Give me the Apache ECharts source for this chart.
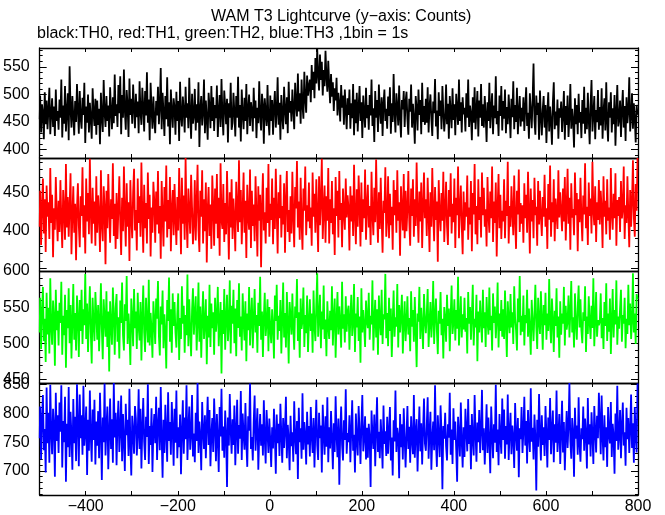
<!DOCTYPE html>
<html><head><meta charset="utf-8">
<script src="https://cdn.jsdelivr.net/npm/echarts@6/dist/echarts.min.js"></script>
<style>html,body{margin:0;padding:0;background:#fff}#c{width:665px;height:515px}</style>
</head><body><div id="c"></div><script>
const xStart = -500, xStep = 2;
const titleText = 'WAM T3 Lightcurve (y\u2212axis: Counts)';
const subText = 'black:TH0, red:TH1, green:TH2, blue:TH3 ,1bin = 1s';
const xTickLabels = [-400, -200, 0, 200, 400, 600, 800];
const th0Labels = [400, 450, 500, 550];
const th1Labels = [400, 450];
const th2Labels = [450, 500, 550, 600];
const th3Labels = [700, 750, 800, 850];

const th0 = [
455,498,431,482,467,419,504,446,489,437,473,512,428,466,493,441,478,425,509,452,470,
436,491,458,527,422,480,447,515,433,469,502,417,551,474,440,497,461,426,488,450,519,
472,429,506,457,438,494,463,521,412,478,449,500,431,485,456,420,511,466,443,492,427,
489,445,474,410,503,459,432,526,468,441,497,452,480,424,513,470,437,495,448,536,461,
482,441,517,466,533,428,499,458,545,471,436,508,480,423,529,463,492,447,518,475,439,
501,459,487,430,524,469,445,512,478,433,506,462,540,449,491,417,521,473,438,496,455,
430,488,462,514,446,479,548,437,503,468,425,497,455,531,442,486,410,509,471,440,493,
476,427,505,452,488,416,523,461,442,496,470,431,514,458,484,439,530,466,420,501,447,
462,510,435,482,449,522,405,474,497,444,468,527,430,489,456,418,503,477,439,515,452,
495,434,481,457,516,423,470,499,441,528,463,426,507,479,446,492,413,484,458,521,436,
448,503,469,424,497,458,532,440,481,415,509,466,437,494,452,519,428,473,500,443,486,
471,433,512,457,489,421,476,448,524,462,435,501,480,411,493,467,443,517,454,426,498,
452,490,427,478,506,440,469,531,445,485,418,499,463,437,514,472,446,495,430,523,467,
488,451,509,474,437,521,483,460,538,469,502,447,527,480,456,541,492,467,534,498,515,
527,486,553,508,541,493,566,520,583,535,507,572,526,559,498,544,515,579,532,505,561,
519,484,537,496,522,470,511,489,530,462,503,481,451,517,476,498,445,509,472,437,493,
463,509,438,484,457,519,426,491,448,503,433,477,515,452,486,421,498,466,440,512,457,
481,436,499,462,527,443,475,414,506,458,490,432,518,471,447,495,425,483,509,452,474,
438,496,461,513,429,484,450,537,468,431,502,477,444,516,459,422,490,473,506,441,487,
505,455,427,492,469,518,440,483,456,411,497,474,435,509,463,490,428,521,450,479,445,
492,449,513,431,478,500,456,425,487,466,528,442,471,419,504,461,489,437,515,468,433,
459,518,446,483,420,497,468,439,511,454,482,426,501,473,445,527,452,486,431,495,464,
476,433,502,458,527,441,480,465,417,495,449,513,437,471,506,424,489,458,519,443,482,
440,497,463,414,486,452,521,439,474,502,428,480,457,533,446,470,425,498,461,515,435,
488,456,509,430,477,446,500,466,421,492,459,524,437,481,450,512,428,469,497,442,476,
451,495,434,478,513,443,467,420,502,471,439,490,556,454,427,498,463,485,418,507,460,
426,473,497,440,481,412,466,504,433,478,451,409,486,522,437,469,444,491,420,475,458,
487,432,465,506,418,479,445,498,423,460,519,438,474,452,404,493,446,481,428,501,449,
468,421,490,447,514,429,476,437,503,455,410,482,526,433,464,497,419,472,450,508,436,
477,444,511,420,469,493,435,522,451,415,486,458,504,431,475,446,499,407,467,517,442,
455,489,423,472,508,440,479,416,495,448,470,531,433,461,502,438,484,457,413,481,463
];
const th1 = [
405,452,381,430,468,396,441,372,459,418,437,389,482,410,447,365,429,401,470,423,386,
439,398,466,414,377,453,426,388,487,404,444,392,431,475,369,420,458,397,435,361,428,
462,407,378,445,419,483,391,433,370,468,412,449,395,494,424,383,456,409,438,380,471,
397,446,421,372,479,408,386,458,430,356,452,403,474,426,384,441,415,488,393,435,376,
449,389,428,471,411,368,443,399,484,422,379,462,405,437,360,466,417,390,450,481,400,
427,374,468,410,445,392,489,419,371,460,403,436,383,476,415,447,366,430,397,464,438,
384,451,408,478,396,432,363,465,420,379,457,412,485,391,440,402,470,373,427,453,394,
461,416,381,444,400,482,427,369,469,409,446,388,495,418,377,455,424,396,473,431,382,
410,466,387,435,486,401,372,452,418,479,383,441,399,463,358,426,457,393,434,376,472,
431,380,455,409,474,390,443,367,488,414,402,461,385,436,395,478,420,362,450,404,467,
389,442,415,373,464,427,398,492,411,453,382,428,476,397,439,364,460,418,401,480,377,
452,406,434,386,471,421,366,458,413,447,352,431,475,400,424,383,456,410,487,392,435,
414,468,382,443,402,481,425,370,450,416,473,391,432,408,462,371,440,478,398,427,385,
445,396,477,419,378,457,429,491,404,438,388,469,411,375,455,426,484,394,433,412,463,
403,430,380,476,418,448,397,467,421,372,471,407,440,494,389,428,459,384,445,413,482,
383,441,410,465,395,429,368,470,419,452,391,478,414,436,378,455,424,401,468,417,446,
429,374,458,412,446,393,486,420,382,454,405,472,431,379,463,398,441,416,480,388,433,
460,404,432,381,477,421,394,456,411,493,426,384,450,402,469,415,371,439,423,483,392,
416,471,390,448,407,431,375,466,420,453,397,479,413,437,367,458,427,400,474,390,452,
399,428,478,413,380,455,419,467,392,441,406,489,423,384,451,412,463,377,432,476,416,
441,393,469,420,372,450,405,482,426,386,457,414,438,359,466,421,399,449,413,477,385,
427,464,406,381,453,418,475,396,435,411,468,377,443,420,484,390,428,459,407,369,451,
400,437,418,472,388,430,408,465,373,449,421,487,395,432,382,467,414,444,391,476,420,
456,405,428,379,470,421,397,451,416,484,385,438,410,463,366,430,474,403,447,389,426,
412,467,390,439,419,490,383,432,405,458,424,394,472,415,376,452,421,480,398,436,409,
433,384,462,416,447,397,477,424,370,455,412,440,390,469,420,431,380,465,408,452,419,
393,444,418,473,405,429,376,461,414,485,392,437,411,467,386,442,422,402,479,417,450,
425,399,455,412,470,387,430,481,409,443,375,462,417,428,394,476,420,449,373,441,411,
469,417,386,446,421,488,403,431,381,463,419,442,396,490,426,407,458,385,437,414,466,
408,452,427,377,471,418,439,395,467,413,430,388,482,422,401,448,416,475,380,440,419,
444,398,465,416,429,484,389,433,410,471,421,378,453,405,438,492,417,392,461,426,495
];
const th2 = [
515,563,492,541,578,503,534,474,570,512,549,486,590,522,498,559,537,469,574,518,545,
497,556,528,585,484,538,511,567,466,546,521,576,500,553,479,531,582,505,542,490,566,
536,481,560,517,574,499,547,525,596,506,555,488,536,579,515,472,563,527,503,571,540,
505,553,489,530,583,520,478,561,534,509,572,495,544,461,558,526,498,577,538,484,549,
568,502,536,479,559,528,584,511,490,554,531,593,499,541,517,470,562,533,496,575,521,
544,492,570,523,504,557,476,536,580,515,488,563,529,501,588,497,542,519,480,558,530,
499,562,534,586,510,483,551,526,573,493,540,516,465,560,531,591,502,547,487,569,524,
557,515,494,541,569,477,535,506,579,527,552,487,539,511,595,496,561,518,482,545,576,
512,540,565,490,529,584,502,551,480,533,572,506,527,561,471,538,508,581,495,555,521,
543,484,563,516,535,578,496,529,557,458,546,513,575,491,534,567,503,526,587,486,552,
527,574,500,548,482,560,521,583,509,537,490,569,531,504,558,475,541,518,578,497,535,
563,493,532,575,515,539,487,556,524,592,505,544,481,536,570,510,528,561,489,550,520,
500,547,523,479,566,531,581,505,538,517,560,486,533,584,508,542,494,571,528,472,557,
537,512,569,522,491,551,535,589,503,543,480,562,520,532,577,495,539,514,566,488,530,
561,517,541,487,573,525,503,554,597,509,536,567,493,544,519,580,506,533,482,558,524,
506,545,518,579,497,536,562,480,532,571,512,551,527,494,585,520,540,501,565,516,543,
552,491,535,567,510,528,582,488,541,522,564,503,537,473,576,515,546,524,495,559,531,
521,570,505,538,526,587,490,532,560,508,547,484,566,529,511,574,499,540,533,596,507,
542,496,563,517,548,481,530,573,509,536,523,582,494,553,515,540,567,486,528,558,503,
529,565,512,535,489,572,523,546,502,564,518,467,541,530,578,506,549,525,492,568,532,
514,541,575,495,528,557,508,532,586,499,537,562,517,485,545,527,571,511,534,479,550,
533,502,567,524,548,489,538,580,513,529,561,504,546,520,592,497,531,565,508,540,519,
563,516,535,486,571,527,550,505,539,581,497,534,522,567,475,544,515,559,529,501,574,
521,543,495,564,531,512,577,518,538,490,569,528,551,507,533,584,494,541,517,560,509,
547,506,573,527,481,558,532,514,568,522,543,499,579,534,518,490,562,529,593,511,538,
516,566,497,539,528,574,509,548,520,484,560,531,503,541,581,523,492,563,530,513,572,
534,491,553,525,570,505,541,517,589,528,500,562,533,488,545,524,576,508,537,480,558,
512,541,527,578,497,552,519,530,566,508,543,586,515,536,494,569,528,505,549,580,522,
561,518,500,543,531,579,488,537,513,565,529,506,552,521,590,496,534,571,509,532,525,
530,569,507,535,492,557,524,583,503,541,516,562,485,531,575,508,546,526,587,498,537,
520,548,574,502,539,527,563,493,534,513,581,525,555,506,531,597,515,541,499,568,561
];
const th3 = [
757,812,720,791,832,736,773,697,845,748,801,714,850,765,729,808,779,690,836,752,797,
731,819,768,849,706,787,750,829,681,782,741,846,724,803,763,702,825,748,794,717,851,
779,708,833,757,797,728,848,744,770,812,693,789,735,840,761,716,807,754,824,711,786,
744,804,722,836,768,684,793,750,852,727,776,812,703,765,826,738,790,714,853,758,801,
710,783,822,733,771,831,717,799,753,700,817,762,789,726,843,747,692,796,767,730,813,
791,727,764,842,738,808,704,775,827,751,719,794,759,851,712,778,745,809,698,770,799,
748,829,719,779,810,736,846,759,688,789,731,815,766,716,837,752,785,728,820,773,709,
808,749,840,722,776,741,798,694,768,823,730,793,755,849,719,774,812,737,763,832,725,
765,715,801,752,853,731,786,759,701,820,769,738,797,722,779,829,745,806,708,764,792,
733,826,776,717,799,757,698,811,760,843,735,777,723,805,764,672,793,744,834,771,730,
790,745,814,710,768,824,730,780,756,839,719,800,763,737,818,749,707,795,770,852,738,
759,718,786,831,735,772,809,702,761,799,744,781,727,823,756,713,806,767,731,791,752,
707,776,739,808,760,695,798,748,782,726,817,764,714,792,740,771,829,722,780,755,701,
796,743,767,716,821,758,729,787,686,810,750,774,721,835,737,785,762,711,803,746,778,
725,811,761,731,792,706,769,824,745,719,801,757,779,697,815,763,728,795,742,828,715,
776,739,804,756,703,783,733,830,762,724,791,676,767,812,745,718,788,754,842,730,766,
750,797,715,770,823,735,763,697,800,753,727,813,769,712,781,832,734,759,795,720,775,
723,782,757,672,805,762,738,798,708,772,828,733,768,722,790,755,704,814,747,769,726,
794,730,769,811,718,758,692,788,751,840,733,775,761,687,799,741,781,720,809,757,706,
762,813,738,777,714,795,754,729,832,723,768,790,699,760,812,734,783,711,771,826,748,
735,778,828,721,765,803,702,757,786,736,849,750,707,797,760,724,814,767,668,778,756,
801,743,718,781,758,836,728,772,712,809,754,786,737,681,794,763,725,819,752,706,776,
724,808,769,734,825,747,780,703,799,755,727,832,766,716,784,750,806,731,770,841,736,
774,711,759,816,731,793,753,696,812,765,722,781,749,850,733,772,710,799,760,730,826,
754,807,721,778,746,833,719,768,801,729,779,757,705,818,764,735,792,689,774,755,811,
731,770,829,744,787,713,806,760,733,844,751,775,720,798,758,666,789,742,834,767,718,
797,745,776,726,813,763,706,793,754,827,729,770,805,715,781,749,840,733,761,799,712,
767,822,732,785,701,758,804,740,778,853,752,721,792,766,690,810,756,779,728,828,746,
716,774,755,812,735,791,763,704,827,746,781,725,802,761,712,813,770,732,796,757,836,
788,729,831,759,718,797,741,776,707,811,764,748,820,724,782,760,695,800,752,848,737,
762,806,722,778,819,744,767,709,810,755,792,731,772,833,740,783,714,811,760,732,852
];

const FONT = "'Liberation Sans', Arial, Helvetica, sans-serif";
const panels = [
  {data: th0, color: '#000000', min: 385, max: 584, labels: th0Labels},
  {data: th1, color: '#ff0000', min: 347, max: 495, labels: th1Labels},
  {data: th2, color: '#00ff00', min: 445, max: 600, labels: th2Labels},
  {data: th3, color: '#0000ff', min: 658, max: 853, labels: th3Labels}
];
const tops = [48, 158, 271, 383];
const bottoms = [158, 271, 383, 496];
const LEFT = 38, RIGHT = 638, W = 665, H = 515;

function range(a, b, s) { const r = []; for (let v = a; v <= b; v += s) r.push(v); return r; }
const fmtX = v => (v < 0 ? '\u2212' + Math.abs(v) : String(v));

const grid = [], xAxis = [], yAxis = [], series = [];
panels.forEach((p, i) => {
  grid.push({left: LEFT, right: W - RIGHT, top: tops[i], height: bottoms[i] - tops[i], containLabel: false});
  const minor = range(Math.ceil(p.min / 10) * 10, p.max, 10);
  const major = range(Math.ceil(p.min / 50) * 50, p.max, 50);
  ['bottom', 'top'].forEach(pos => {
    xAxis.push({
      type: 'value', gridIndex: i, position: pos, min: -500, max: 800, interval: 100,
      axisLine: {show: true, onZero: false, lineStyle: {color: '#000', width: 1.3}},
      axisTick: {show: true, inside: true, length: 4, lineStyle: {color: '#000'}},
      axisLabel: (pos === 'bottom' && i === 3) ? {
        show: true, customValues: xTickLabels, formatter: fmtX, color: '#000',
        fontSize: 16, fontFamily: FONT, margin: 4
      } : {show: false},
      splitLine: {show: false}
    });
  });
  ['left', 'right'].forEach(pos => {
    [[minor, 3], [major, 7]].forEach(([vals, len], k) => {
      yAxis.push({
        type: 'value', gridIndex: i, position: pos, min: p.min, max: p.max,
        axisLine: {show: k === 0, onZero: false, lineStyle: {color: '#000', width: 1.3}},
        axisTick: {show: true, inside: true, length: len, customValues: vals, lineStyle: {color: '#000'}},
        axisLabel: (pos === 'left' && k === 0) ? {
          show: true, customValues: p.labels, color: '#000', fontSize: 16,
          fontFamily: FONT, margin: 10
        } : {show: false},
        splitLine: {show: false}
      });
    });
  });
  series.push({
    type: 'line', xAxisIndex: i * 2, yAxisIndex: i * 4,
    data: p.data.map((v, j) => [xStart + j * xStep, v]),
    step: 'middle', symbol: 'none', showSymbol: false, clip: true,
    lineStyle: {color: p.color, width: 1.8}, itemStyle: {color: p.color},
    animation: false, silent: true
  });
});

const chart = echarts.init(document.getElementById('c'), null, {renderer: 'canvas'});
chart.setOption({
  backgroundColor: '#fff',
  animation: false,
  title: [
    {text: titleText, left: 211, top: 9, padding: 0,
     textStyle: {fontSize: 16, fontWeight: 'normal', color: '#000', fontFamily: FONT}},
    {text: subText, left: 37, top: 26, padding: 0,
     textStyle: {fontSize: 16, fontWeight: 'normal', color: '#000', fontFamily: FONT}}
  ],
  grid, xAxis, yAxis, series
});
</script></body></html>
